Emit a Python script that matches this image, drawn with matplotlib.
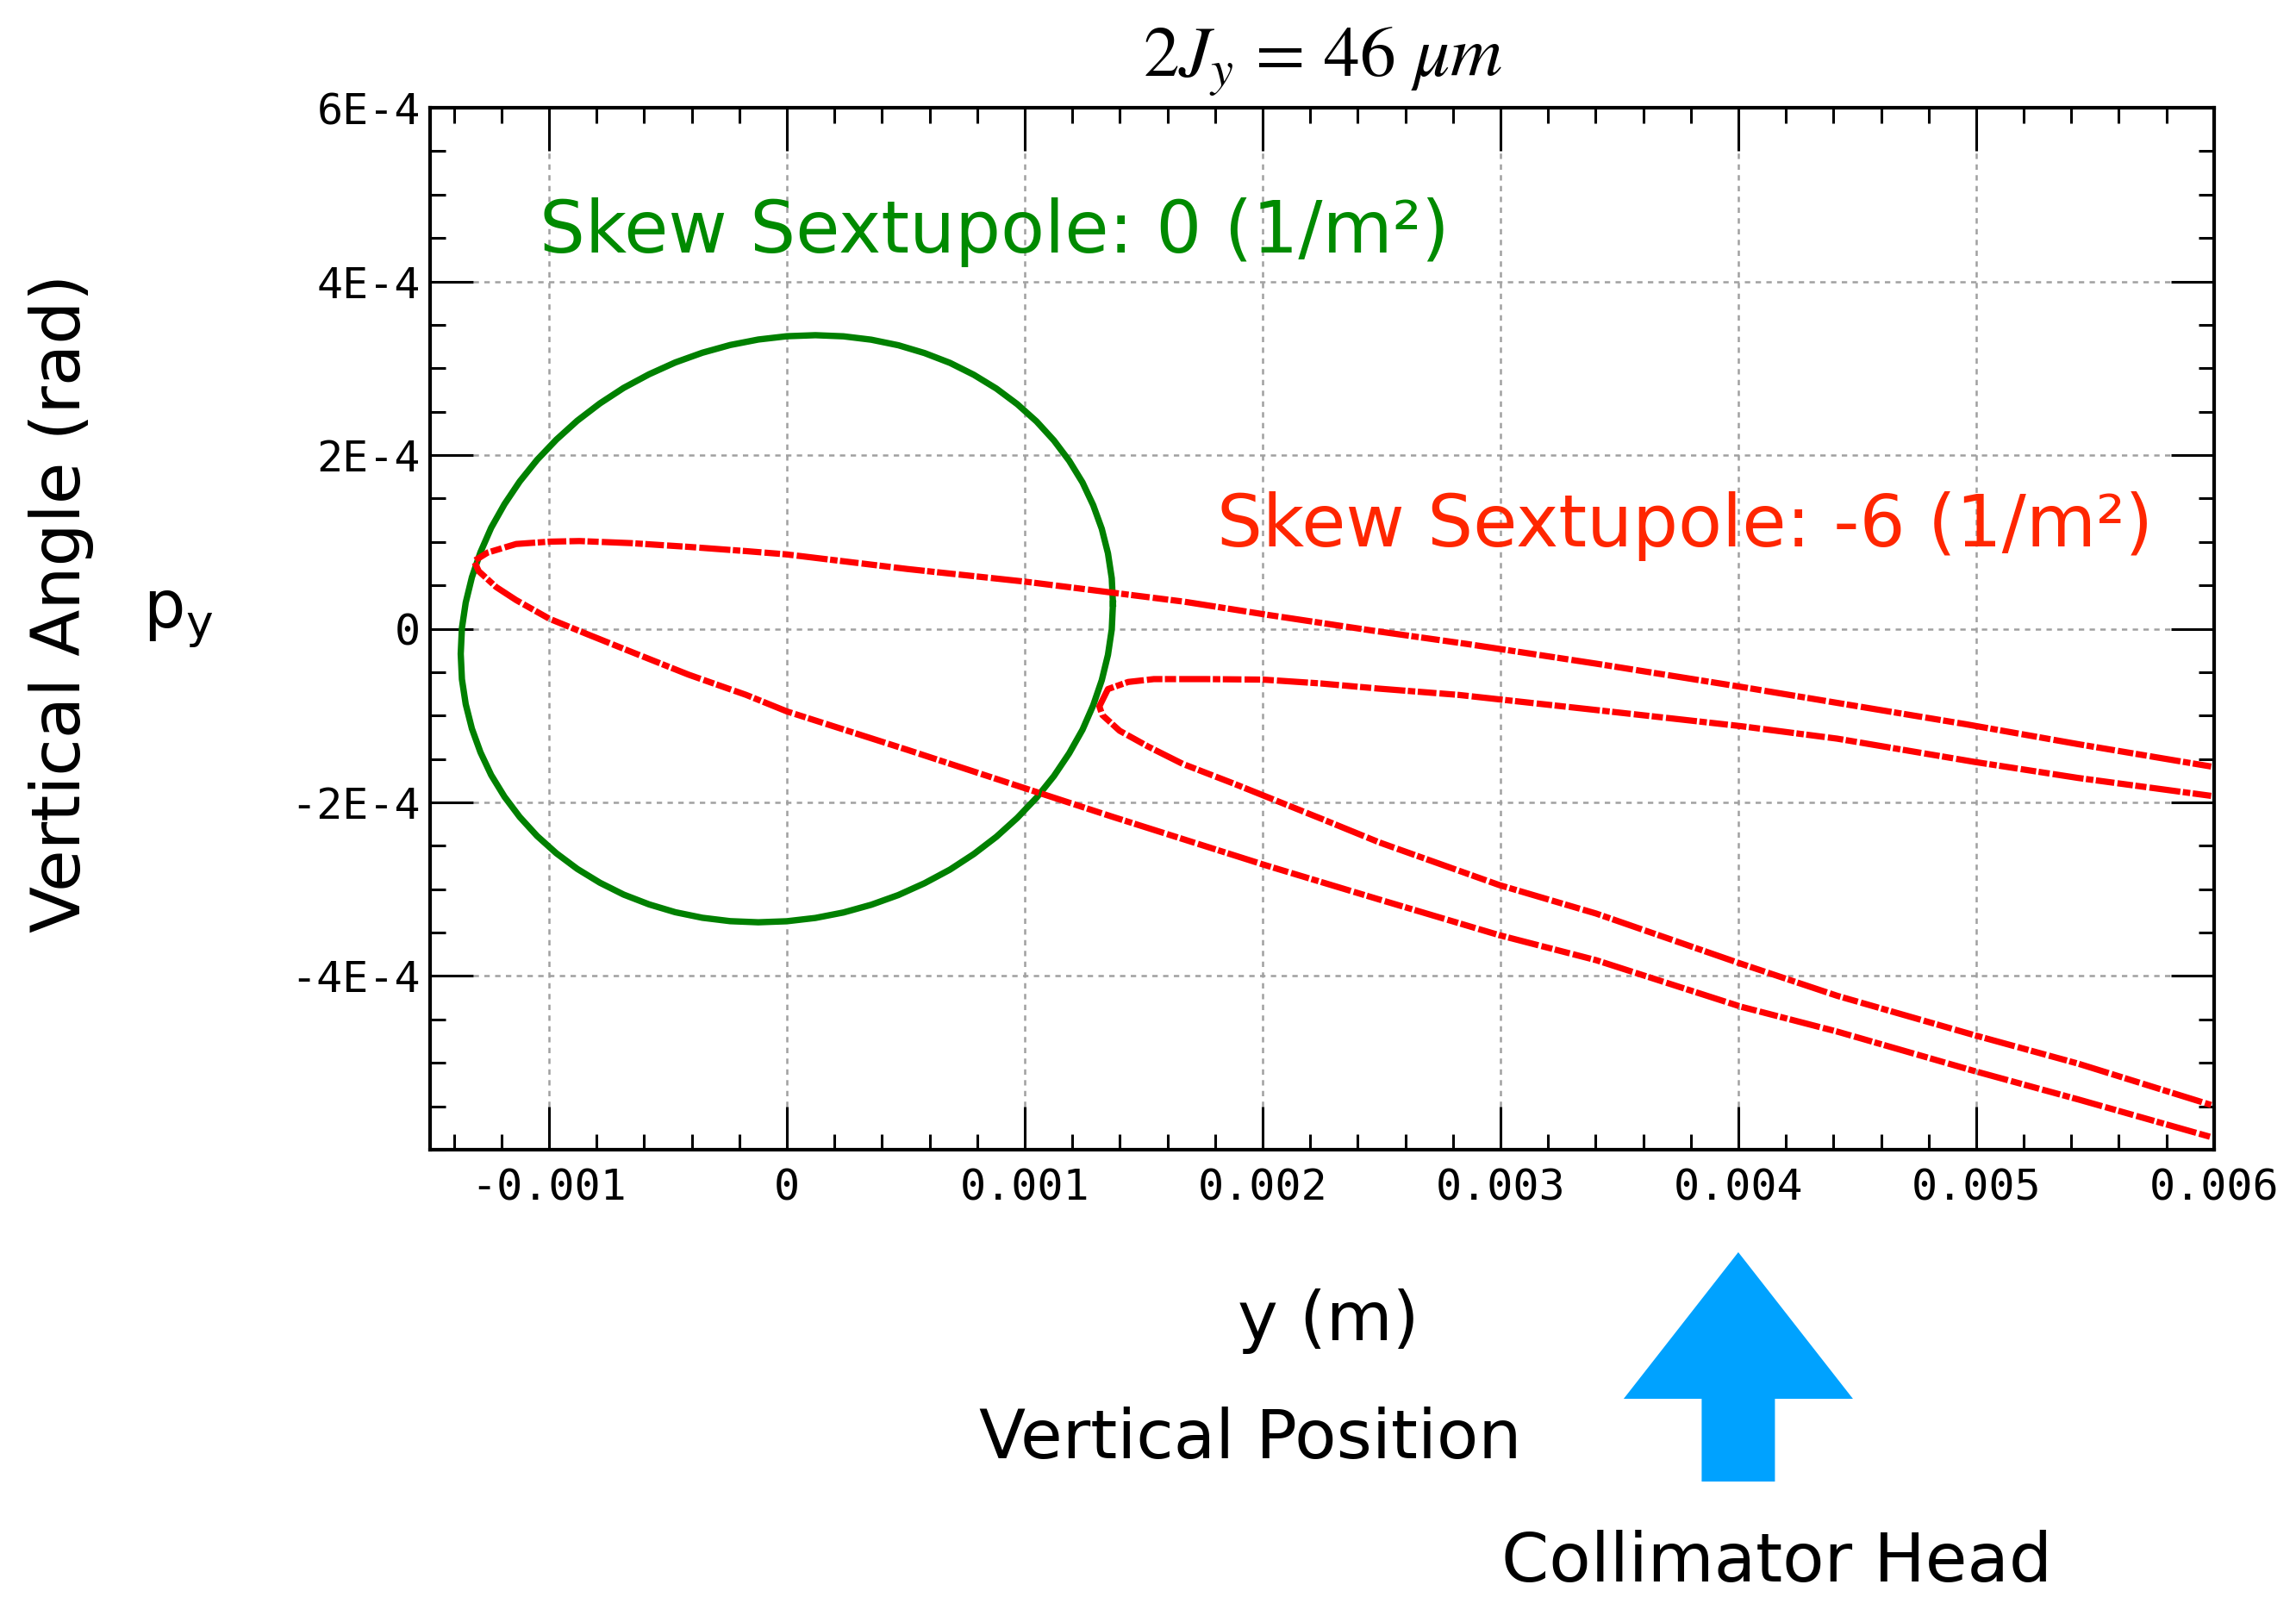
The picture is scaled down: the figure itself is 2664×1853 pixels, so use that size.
import matplotlib
matplotlib.use("Agg")
import matplotlib.pyplot as plt
import matplotlib.transforms as mtransforms
from matplotlib.patches import Polygon
from matplotlib.ticker import FixedLocator, MultipleLocator


# phase-space ellipse, skew sextupole off (y in mm, py in 1e-4 rad)
ring_y = [1.371, 1.366, 1.350, 1.324, 1.288, 1.243, 1.187, 1.123, 1.050,
          0.969, 0.881, 0.786, 0.686, 0.579, 0.469, 0.355, 0.238, 0.120,
          0.0, -0.120, -0.238, -0.355, -0.469, -0.579, -0.686, -0.786,
          -0.881, -0.969, -1.050, -1.123, -1.187, -1.243, -1.288, -1.324,
          -1.350, -1.366,
          -1.371, -1.366, -1.350, -1.324, -1.288, -1.243, -1.187, -1.123,
          -1.050, -0.969, -0.881, -0.786, -0.686, -0.579, -0.469, -0.355,
          -0.238, -0.120, 0.0, 0.120, 0.238, 0.355, 0.469, 0.579, 0.686,
          0.786, 0.881, 0.969, 1.050, 1.123, 1.187, 1.243, 1.288, 1.324,
          1.350, 1.366, 1.371]
ring_py = [0.289, 0.581, 0.869, 1.151, 1.423, 1.685, 1.935, 2.168, 2.387,
           2.586, 2.766, 2.925, 3.062, 3.175, 3.265, 3.329, 3.368, 3.381,
           3.369, 3.331, 3.268, 3.179, 3.067, 2.931, 2.774, 2.595, 2.396,
           2.178, 1.945, 1.696, 1.435, 1.163, 0.881, 0.593, 0.301, 0.007,
           -0.289, -0.581, -0.869, -1.151, -1.423, -1.685, -1.935, -2.168,
           -2.387, -2.586, -2.766, -2.925, -3.062, -3.175, -3.265, -3.329,
           -3.368, -3.381, -3.369, -3.331, -3.268, -3.179, -3.067, -2.931,
           -2.774, -2.595, -2.396, -2.178, -1.945, -1.696, -1.435, -1.163,
           -0.881, -0.593, -0.301, -0.007, 0.289]

# skew sextupole -6 1/m^2 : outer tongue (upper branch from the right, vertex, lower branch)
outer_y = [5.988, 5.430, 4.957, 4.416, 4.011, 3.402, 2.861, 2.456, 2.016,
           1.672, 1.003, 0.507, 0.0, -0.171, -0.413, -0.655, -0.872, -0.999,
           -1.138, -1.258, -1.315,
           -1.295, -1.222, -1.138, -0.999, -0.836, -0.655, -0.413, -0.171,
           0.0, 0.507, 1.003, 1.374, 2.016, 2.490, 2.996, 3.402, 4.011,
           4.416, 4.991, 5.430, 5.988]
outer_py = [-1.587, -1.330, -1.100, -0.854, -0.669, -0.402, -0.176, -0.019,
            0.162, 0.311, 0.542, 0.688, 0.856, 0.894, 0.943, 0.986, 1.010,
            1.003, 0.976, 0.877, 0.780,
            0.662, 0.480, 0.330, 0.116, -0.066, -0.265, -0.529, -0.762,
            -0.952, -1.395, -1.839, -2.170, -2.727, -3.118, -3.530, -3.817,
            -4.353, -4.640, -5.093, -5.422, -5.855]

# inner tongue
inner_y = [5.988, 5.430, 4.991, 4.416, 4.011, 3.402, 2.824, 2.486, 2.244,
           2.003, 1.761, 1.543, 1.435, 1.350, 1.314,
           1.326, 1.399, 1.519, 1.664, 1.882, 2.003, 2.244, 2.490, 2.996,
           3.402, 4.011, 4.416, 4.991, 5.430, 5.988]
inner_py = [-1.925, -1.719, -1.533, -1.266, -1.122, -0.936, -0.762, -0.689,
            -0.630, -0.586, -0.580, -0.580, -0.613, -0.695, -0.894,
            -0.993, -1.175, -1.357, -1.556, -1.787, -1.920, -2.185, -2.460,
            -2.953, -3.280, -3.858, -4.228, -4.680, -5.010, -5.485]

x_ticks = [-0.001, 0.0, 0.001, 0.002, 0.003, 0.004, 0.005, 0.006]
x_tick_labels = ["-0.001", "0", "0.001", "0.002", "0.003", "0.004", "0.005", "0.006"]
y_ticks = [-4e-4, -2e-4, 0.0, 2e-4, 4e-4, 6e-4]
y_tick_labels = ["-4E-4", "-2E-4", "0", "2E-4", "4E-4", "6E-4"]

collimator_pos = 0.004  # m

plt.rcParams["mathtext.fontset"] = "stix"

fig = plt.figure(figsize=(26.64, 18.53), dpi=100)
ax = fig.add_axes([0.1873, 0.2801, 0.7770, 0.6524])

mm = 1e-3
urad = 1e-4
ax.plot([v * mm for v in ring_y], [v * urad for v in ring_py],
        color="#008000", lw=5.3, solid_joinstyle="round", zorder=3)
for xs, ys in ((outer_y, outer_py), (inner_y, inner_py)):
    ax.plot([v * mm for v in xs], [v * urad for v in ys], color="#ff0000",
            lw=5.2, dashes=(3, 0.4, 1.2, 0.4, 5, 0.5, 1.8, 0.4, 2.5, 0.5),
            solid_capstyle="butt", dash_capstyle="butt", zorder=4)

ax.set_xlim(-0.0015, 0.006)
ax.set_ylim(-6e-4, 6e-4)
ax.xaxis.set_major_locator(FixedLocator(x_ticks))
ax.xaxis.set_minor_locator(MultipleLocator(0.0002))
ax.yaxis.set_major_locator(FixedLocator(y_ticks))
ax.yaxis.set_minor_locator(MultipleLocator(5e-5))
ax.set_xticklabels(x_tick_labels, family="DejaVu Sans Mono", fontsize=36)
ax.set_yticklabels(y_tick_labels, family="DejaVu Sans Mono", fontsize=36)

ax.tick_params(which="both", direction="in", top=True, right=True, width=2.2)
ax.tick_params(which="major", length=36)
ax.tick_params(which="minor", length=13)
ax.tick_params(axis="x", pad=15)
ax.tick_params(axis="y", pad=8)
for s in ax.spines.values():
    s.set_linewidth(3)

ax.grid(True, which="major", color="#a0a0a0", linestyle=(0, (2.5, 2.5)), lw=1.8)
ax.set_axisbelow(True)

# legend-like labels inside the axes
ax.text(-1.041e-3, 4.337e-4, "Skew Sextupole: 0 (1/m²)", color="#008a00",
        fontsize=60, va="baseline", ha="left")
ax.text(1.81e-3, 0.953e-4, "Skew Sextupole: -6 (1/m²)", color="#ff2600",
        fontsize=60, va="baseline", ha="left")

fig.text(0.5762, 0.952, r"$2J_y\,=\,46\ \mu m$", fontsize=60, ha="center", va="baseline")
fig.text(0.0267, 0.6222, "Vertical Angle (rad)", fontsize=57, rotation=90,
         ha="center", va="center")
fig.text(0.0777, 0.6071, r"$\mathregular{p_y}$", fontsize=55, ha="center", va="baseline")
fig.text(0.5785, 0.1608, "y (m)", fontsize=57, ha="center", va="baseline")
fig.text(0.5447, 0.0869, "Vertical Position", fontsize=57, ha="center", va="baseline")
fig.text(0.7737, 0.001, "Collimator Head", fontsize=57, ha="center", va="bottom")

# arrow marking the collimator position under the axis
trans = mtransforms.blended_transform_factory(ax.transData, fig.transFigure)
head = 0.000482
shaft = 0.000154
arrow = Polygon([(collimator_pos, 0.2159), (collimator_pos + head, 0.1241),
                 (collimator_pos + shaft, 0.1241), (collimator_pos + shaft, 0.0723),
                 (collimator_pos - shaft, 0.0723), (collimator_pos - shaft, 0.1241),
                 (collimator_pos - head, 0.1241)],
                closed=True, transform=trans, facecolor="#00a2ff",
                edgecolor="none", clip_on=False)
fig.patches.append(arrow)

fig.savefig("out.png", dpi=100, facecolor="white")
